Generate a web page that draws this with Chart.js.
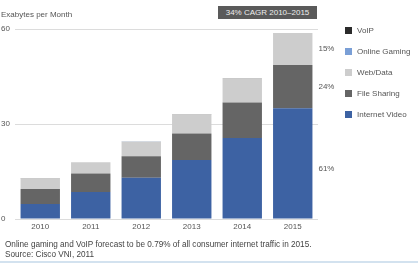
<!DOCTYPE html>
<html>
<head>
<meta charset="utf-8">
<script src="https://cdn.jsdelivr.net/npm/chart.js@4/dist/chart.umd.min.js"></script>
<style>
  body { margin: 0; background: #fff; font-family: "Liberation Sans", Arial, sans-serif; }
  #wrap { position: relative; width: 418px; height: 264px; overflow: hidden; }
  #ylab { position: absolute; left: 1px; top: 10px; font-size: 8px; color: #555; }
  #cagr { position: absolute; left: 218px; top: 6px; width: 99px; height: 13px; background: #5a5a5a;
          color: #eee; font-size: 8px; line-height: 13px; text-align: center; }
  #legend { position: absolute; left: 345px; top: 26px; font-size: 8px; color: #555; }
  #legend div { height: 21px; line-height: 10px; }
  #legend span { display: inline-block; width: 7px; height: 7px; margin-right: 5px; vertical-align: -1px; }
  #note { position: absolute; left: 5px; top: 240px; font-size: 8.2px; line-height: 9.5px; color: #444; }
  #rule { position: absolute; left: 0; top: 261px; width: 418px; height: 2px; background: #d3e2ef; }
</style>
</head>
<body>
<div id="wrap">
  <canvas id="traffic" width="418" height="264"></canvas>
  <div id="ylab">Exabytes per Month</div>
  <div id="cagr">34% CAGR 2010–2015</div>
  <div id="legend"></div>
  <div id="note">Online gaming and VoIP forecast to be 0.79% of all consumer internet traffic in 2015.<br>Source: Cisco VNI, 2011</div>
  <div id="rule"></div>
</div>
<script>
var years = ['2010', '2011', '2012', '2013', '2014', '2015'];
var internetVideo = [4.7, 8.5, 13.0, 18.6, 25.6, 35.0];
var fileSharing = [4.8, 5.9, 6.8, 8.4, 11.2, 13.6];
var webData = [3.3, 3.5, 4.7, 6.0, 7.4, 10.1];
var onlineGaming = [0.02, 0.02, 0.03, 0.03, 0.04, 0.05];
var voip = [0.01, 0.01, 0.01, 0.02, 0.02, 0.02];
var shares2015 = ['61%', '24%', '15%'];

var config = {
    type: 'bar',
    data: {
        labels: years,
        datasets: [
            { label: 'Internet Video', data: internetVideo, backgroundColor: '#3d62a3' },
            { label: 'File Sharing', data: fileSharing, backgroundColor: '#656565' },
            { label: 'Web/Data', data: webData, backgroundColor: '#cdcdcd' },
            { label: 'Online Gaming', data: onlineGaming, backgroundColor: '#7a9fd6' },
            { label: 'VoIP', data: voip, backgroundColor: '#2b2b2b' }
        ]
    },
    options: {
        responsive: false,
        animation: false,
        barPercentage: 0.78,
        categoryPercentage: 1,
        layout: { padding: { left: 1, top: 29, right: 100, bottom: 0 } },
        plugins: {
            legend: { display: false },
            tooltip: { enabled: false }
        },
        scales: {
            x: {
                stacked: true,
                grid: { display: false, drawTicks: false },
                border: { display: false },
                ticks: { color: '#555', font: { size: 8, family: 'Liberation Sans' }, padding: 3 },
                afterFit: function(scale) { scale.height = 45; }
            },
            y: {
                stacked: true,
                min: 0,
                max: 60,
                grid: { color: '#dcdcdc', drawTicks: false },
                border: { display: false },
                ticks: {
                    stepSize: 30,
                    crossAlign: 'far',
                    color: '#555',
                    font: { size: 8, family: 'Liberation Sans' }
                },
                afterFit: function(scale) { scale.width = 14; }
            }
        }
    },
    plugins: [{
        id: 'shareLabels',
        afterDatasetsDraw: function(chart) {
            var ctx = chart.ctx;
            var last = years.length - 1;
            ctx.save();
            ctx.font = '8px "Liberation Sans"';
            ctx.fillStyle = '#555';
            ctx.textBaseline = 'middle';
            for (var i = 0; i < shares2015.length; i++) {
                var bar = chart.getDatasetMeta(i).data[last];
                ctx.fillText(shares2015[i], bar.x + bar.width / 2 + 6, (bar.y + bar.base) / 2 + (i === 0 ? 5 : 0));
            }
            ctx.restore();
        }
    }]
};

window.onload = function() {
    var ctx = document.getElementById('traffic').getContext('2d');
    window.trafficChart = new Chart(ctx, config);

    var legend = document.getElementById('legend');
    var sets = config.data.datasets.slice().reverse();
    sets.forEach(function(ds) {
        var row = document.createElement('div');
        row.innerHTML = '<span style="background:' + ds.backgroundColor + '"></span>' + ds.label;
        legend.appendChild(row);
    });
};
</script>
</body>
</html>
